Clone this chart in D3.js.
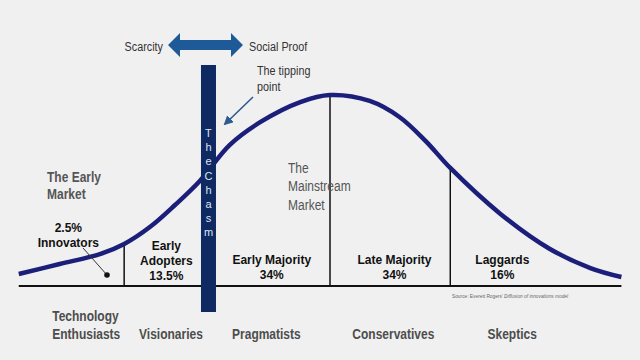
<!DOCTYPE html>
<html>
<head>
<meta charset="utf-8">
<script src="https://cdn.jsdelivr.net/npm/d3@7"></script>
<style>
  html, body { margin: 0; padding: 0; background: #f0f0f0; }
  svg { display: block; }
  text { font-family: "Liberation Sans", Arial, sans-serif; }
  .seg { font-weight: bold; font-size: 12px; fill: #111; }
</style>
</head>
<body>
<svg id="chart" width="640" height="360"></svg>
<script>

// bell curve: position in std devs, height as % of peak
var curveSigma  = [-2.51, -2.18, -1.85, -1.66, -1.45, -1.25, -1.05, -0.81, -0.56, -0.24, 0, 0.32, 0.56, 0.77, 0.97, 1.37, 1.77, 2.10, 2.35];
var curveHeight = [6.3, 11.5, 16.8, 22.0, 31.0, 42.4, 55.0, 73.8, 85.9, 96.3, 100, 96.9, 88.5, 76, 61.8, 38, 19.5, 9.4, 4.7];

// vertical dividers between groups
var dividerSigma  = [-1.66, 0, 0.97];
var dividerHeight = [22.0, 100, 61.8];

var chasmSigma = -0.98;
var chasmText = 'TheChasm';

var segments      = ['Innovators', 'Early Adopters', 'Early Majority', 'Late Majority', 'Laggards'];
var shares        = [2.5, 13.5, 34, 34, 16];
var segmentCenter = [-2.11, -1.32, -0.47, 0.52, 1.39];

var personas     = ['Technology Enthusiasts', 'Visionaries', 'Pragmatists', 'Conservatives', 'Skeptics'];
var personaStart = [-2.24, -1.54, -0.79, 0.18, 1.27];

var svg = d3.select('#chart');

var x = d3.scaleLinear().domain([-2.5, 2.5]).range([20, 640]);
var y = d3.scaleLinear().domain([0, 100]).range([286, 95]);

// no narrow face installed, so squeeze Liberation Sans horizontally
var NARROW = 0.8;
function narrow(lines, px, py, size, weight, fill, lead, anchor) {
    var t = svg.append('text')
        .attr('transform', 'translate(' + px + ',' + py + ') scale(' + NARROW + ',1)')
        .attr('font-size', size)
        .attr('font-weight', weight || 'normal')
        .attr('text-anchor', anchor || 'start')
        .attr('fill', fill);
    lines.forEach(function(l, i) {
        t.append('tspan').attr('x', 0).attr('y', i * lead).text(l);
    });
    return t;
}

var defs = svg.append('defs');
defs.append('marker')
    .attr('id', 'tip')
    .attr('viewBox', '0 0 10 10')
    .attr('refX', 8).attr('refY', 5)
    .attr('markerWidth', 6).attr('markerHeight', 6)
    .attr('orient', 'auto')
    .append('path')
    .attr('d', 'M0,0L10,5L0,10z')
    .attr('fill', '#2f5b8e');

// baseline
svg.append('line')
    .attr('x1', x(-2.51)).attr('x2', x(2.35))
    .attr('y1', y(0)).attr('y2', y(0))
    .attr('stroke', '#111').attr('stroke-width', 2);

// dividers
svg.selectAll('.divider')
    .data(dividerSigma)
    .enter()
    .append('line')
    .attr('class', 'divider')
    .attr('x1', function(d) { return x(d); })
    .attr('x2', function(d) { return x(d); })
    .attr('y1', function(d, i) { return y(dividerHeight[i]); })
    .attr('y2', y(0))
    .attr('stroke', '#111').attr('stroke-width', 1.5);

// the curve
var line = d3.line()
    .x(function(d, i) { return x(curveSigma[i]); })
    .y(function(d) { return y(d); })
    .curve(d3.curveCatmullRom);

svg.append('path')
    .datum(curveHeight)
    .attr('d', line)
    .attr('fill', 'none')
    .attr('stroke', '#1c1f7a')
    .attr('stroke-width', 4.5);

// innovator leader line + dot
svg.append('line')
    .attr('x1', 83).attr('y1', 248)
    .attr('x2', 107).attr('y2', 275)
    .attr('stroke', '#333').attr('stroke-width', 1);
svg.append('circle')
    .attr('cx', 107).attr('cy', 275).attr('r', 2.8)
    .attr('fill', '#111');

// chasm bar
var cx = x(chasmSigma);
svg.append('rect')
    .attr('x', cx - 7.5).attr('y', 65)
    .attr('width', 15).attr('height', 247)
    .attr('fill', '#0f2a63');

svg.selectAll('.chasm')
    .data(chasmText.split(''))
    .enter()
    .append('text')
    .attr('class', 'chasm')
    .attr('x', cx)
    .attr('y', function(d, i) { return 137 + i * 14.2; })
    .attr('text-anchor', 'middle')
    .attr('font-size', 11)
    .attr('fill', '#dfe5f0')
    .text(function(d) { return d; });

// segment labels
var segLines = segments.map(function(s, i) {
    if (i == 0) return [shares[i] + '%', s];
    if (i == 1) return ['Early', 'Adopters', shares[i] + '%'];
    return [s, shares[i] + '%'];
});
var segTop = [232, 250, 264, 264, 264];

svg.selectAll('.seg')
    .data(segLines)
    .enter()
    .append('text')
    .attr('class', 'seg')
    .attr('text-anchor', 'middle')
    .attr('transform', function(d, i) { return 'translate(' + x(segmentCenter[i]) + ',' + segTop[i] + ')'; })
    .each(function(d) {
        d3.select(this).selectAll('tspan')
            .data(d)
            .enter()
            .append('tspan')
            .attr('x', 0)
            .attr('dy', function(t, j) { return j == 0 ? 0 : 15; })
            .text(function(t) { return t; });
    });

// personas under the axis
personas.forEach(function(p, i) {
    var parts = p.split(' ');
    var top = parts.length > 1 ? 321 : 339;
    narrow(parts, x(personaStart[i]), top, 15, 'bold', '#4d4d4d', 18);
});

// market annotations
narrow(['The Early', 'Market'], 47, 182, 15, 'bold', '#555', 17);
narrow(['The', 'Mainstream', 'Market'], 288, 173, 15, 'normal', '#555', 18.5);

// scarcity / social proof arrow
svg.append('path')
    .attr('d', 'M168,45 L180,33 L180,40 L231,40 L231,33 L243,45 L231,57 L231,50 L180,50 L180,57 Z')
    .attr('fill', '#1f5a98');

narrow(['Scarcity'], 163, 51, 13.5, 'normal', '#333', 0, 'end');
narrow(['Social Proof'], 249, 51, 13.5, 'normal', '#333', 0);

// tipping point
narrow(['The tipping', 'point'], 257, 75, 13.5, 'normal', '#333', 16);
svg.append('line')
    .attr('x1', 253).attr('y1', 97)
    .attr('x2', 225).attr('y2', 124)
    .attr('stroke', '#2f5b8e').attr('stroke-width', 1.6)
    .attr('marker-end', 'url(#tip)');

// source note
var src = svg.append('text')
    .attr('x', 452).attr('y', 298)
    .attr('font-size', 4.8)
    .attr('fill', '#666');
src.append('tspan').text("Source: Everett Rogers' ");
src.append('tspan').attr('font-style', 'italic').text('Diffusion of innovations model');

</script>
</body>
</html>
